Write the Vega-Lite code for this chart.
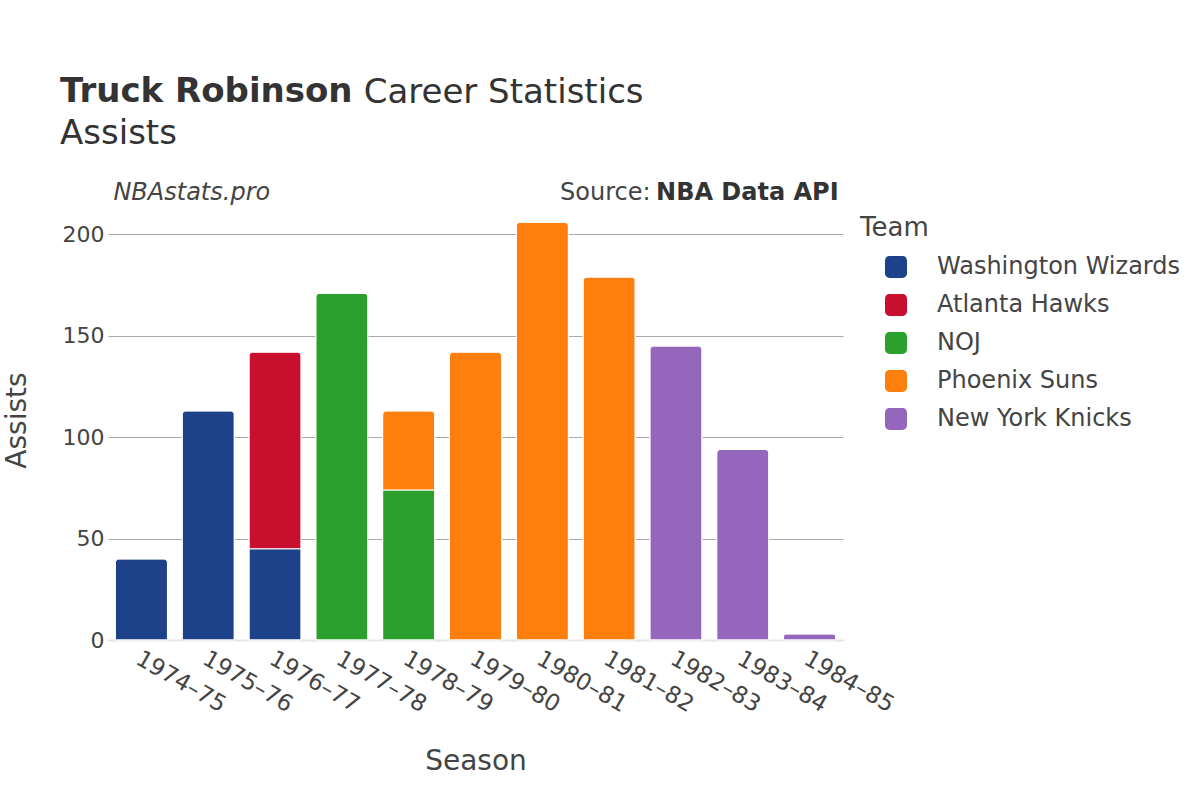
{
  "$schema": "https://vega.github.io/schema/vega-lite/v6.json",
  "autosize": {"type": "none"},
  "width": 735,
  "height": 440,
  "padding": {"left": 108, "top": 200, "right": 357, "bottom": 160},
  "background": "white",
  "title": {
    "text": "Truck Robinson",
    "subtitle": "Assists",
    "anchor": "start",
    "frame": "group",
    "font": "DejaVu Sans",
    "fontSize": 34,
    "fontWeight": "bold",
    "color": "#333",
    "subtitleFont": "DejaVu Sans",
    "subtitleFontSize": 34,
    "subtitleColor": "#333",
    "subtitlePadding": 8,
    "dx": -48,
    "offset": -75
  },
  "config": {
    "font": "DejaVu Sans",
    "view": {"stroke": null}
  },
  "layer": [
    {
      "data": {
        "values": [
          {"season": "1974–75", "team": "Washington Wizards", "assists": 40},
          {"season": "1975–76", "team": "Washington Wizards", "assists": 113},
          {"season": "1976–77", "team": "Washington Wizards", "assists": 45},
          {"season": "1976–77", "team": "Atlanta Hawks", "assists": 97},
          {"season": "1977–78", "team": "NOJ", "assists": 171},
          {"season": "1978–79", "team": "NOJ", "assists": 74},
          {"season": "1978–79", "team": "Phoenix Suns", "assists": 39},
          {"season": "1979–80", "team": "Phoenix Suns", "assists": 142},
          {"season": "1980–81", "team": "Phoenix Suns", "assists": 206},
          {"season": "1981–82", "team": "Phoenix Suns", "assists": 179},
          {"season": "1982–83", "team": "New York Knicks", "assists": 145},
          {"season": "1983–84", "team": "New York Knicks", "assists": 94},
          {"season": "1984–85", "team": "New York Knicks", "assists": 3}
        ]
      },
      "transform": [
        {"calculate": "indexof(['Washington Wizards','Atlanta Hawks','NOJ','Phoenix Suns','New York Knicks'], datum.team)", "as": "teamIndex"}
      ],
      "mark": {"type": "bar", "cornerRadiusTopLeft": 4, "cornerRadiusTopRight": 4, "stroke": "white", "strokeWidth": 1},
      "encoding": {
        "x": {
          "field": "season",
          "type": "nominal",
          "sort": null,
          "scale": {"paddingInner": 0.22, "paddingOuter": 0.11},
          "axis": {
            "title": "Season",
            "titleFontSize": 28,
            "titleFontWeight": "normal",
            "titleColor": "#444",
            "titlePadding": 31,
            "labelAngle": 30,
            "labelAlign": "left",
            "labelBaseline": "top",
            "labelFontSize": 23,
            "labelColor": "#444",
            "labelPadding": 7,
            "labelOffset": 2,
            "ticks": false,
            "domainColor": "#e6e6e6",
            "domainWidth": 2
          }
        },
        "y": {
          "field": "assists",
          "type": "quantitative",
          "stack": "zero",
          "scale": {"domain": [0, 217], "nice": false},
          "axis": {
            "title": "Assists",
            "titleFontSize": 28,
            "titleFontWeight": "normal",
            "titleColor": "#444",
            "titlePadding": 31,
            "values": [0, 50, 100, 150, 200],
            "labelFontSize": 22,
            "labelColor": "#444",
            "labelPadding": 4,
            "ticks": false,
            "domain": false,
            "gridColor": "#aaaaaa",
            "gridWidth": 1
          }
        },
        "color": {
          "field": "team",
          "type": "nominal",
          "scale": {
            "domain": ["Washington Wizards", "Atlanta Hawks", "NOJ", "Phoenix Suns", "New York Knicks"],
            "range": ["#1d428a", "#c8102e", "#2ca02c", "#ff7f0e", "#9467bd"]
          },
          "legend": {
            "title": "Team",
            "orient": "none",
            "legendX": 752,
            "legendY": 15,
            "titleFontSize": 26,
            "titleFontWeight": "normal",
            "titleColor": "#444",
            "titlePadding": 14,
            "labelFontSize": 24,
            "labelColor": "#444",
            "labelLimit": 400,
            "labelOffset": 29,
            "symbolType": "M -0.6,-1 H 0.6 A 0.4 0.4 0 0 1 1 -0.6 V 0.6 A 0.4 0.4 0 0 1 0.6 1 H -0.6 A 0.4 0.4 0 0 1 -1 0.6 V -0.6 A 0.4 0.4 0 0 1 -0.6 -1 Z",
            "symbolSize": 484,
            "symbolStrokeWidth": 0,
            "symbolOpacity": 1,
            "symbolOffset": 24,
            "rowPadding": 14
          }
        },
        "order": {"field": "teamIndex", "type": "quantitative"}
      }
    },
    {
      "data": {"values": [{"label": "Career Statistics"}]},
      "mark": {"type": "text", "align": "left", "baseline": "alphabetic", "fontSize": 34, "color": "#333", "dx": -45},
      "encoding": {"x": {"datum": "1978–79"}, "y": {"datum": 265}, "text": {"field": "label"}}
    },
    {
      "data": {"values": [{"label": "NBAstats.pro"}]},
      "mark": {"type": "text", "align": "left", "baseline": "alphabetic", "fontStyle": "italic", "fontSize": 24, "color": "#444", "dx": -28, "dy": 0},
      "encoding": {"x": {"datum": "1974–75"}, "y": {"datum": 217}, "text": {"field": "label"}}
    },
    {
      "data": {"values": [{"label": "NBA Data API"}]},
      "mark": {"type": "text", "align": "right", "baseline": "alphabetic", "fontWeight": "bold", "fontSize": 24, "color": "#333", "dx": 29, "dy": 0},
      "encoding": {"x": {"datum": "1984–85"}, "y": {"datum": 217}, "text": {"field": "label"}}
    },
    {
      "data": {"values": [{"label": "Source:"}]},
      "mark": {"type": "text", "align": "right", "baseline": "alphabetic", "fontSize": 24, "color": "#444", "dx": -159, "dy": 0},
      "encoding": {"x": {"datum": "1984–85"}, "y": {"datum": 217}, "text": {"field": "label"}}
    }
  ]
}
